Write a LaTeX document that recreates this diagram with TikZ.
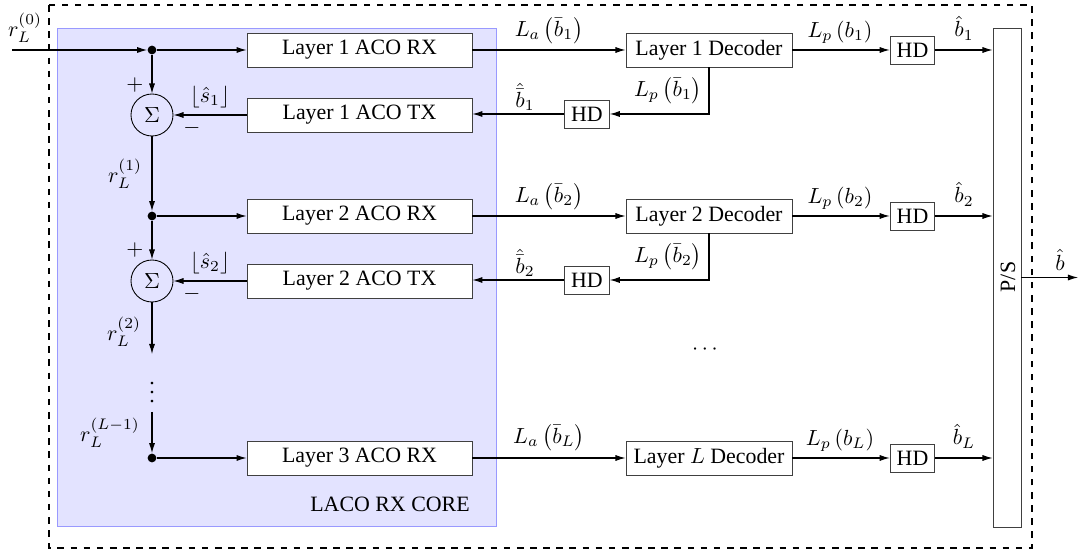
\documentclass[tikz,border=0pt]{standalone}
\usepackage{fontspec}
\setmainfont{Liberation Serif}
\usetikzlibrary{arrows.meta}
\begin{document}
\begin{tikzpicture}[x=0.457pt,y=-0.457pt,
  font=\fontsize{10}{12}\selectfont,
  >={Latex[length=4.6pt,width=2.8pt]},
  blk/.style={draw=black!75,fill=white,minimum width=102.8pt,minimum height=15.5pt,inner sep=0pt},
  dec/.style={draw=black!75,fill=white,minimum width=75.9pt,minimum height=15.5pt,inner sep=0pt},
  hd/.style={draw=black!75,fill=white,minimum width=20.4pt,minimum height=12.8pt,inner sep=0pt},
  sumc/.style={draw=black,circle,minimum size=19.2pt,inner sep=0pt},
  dotn/.style={circle,fill=black,minimum size=4pt,inner sep=0pt},
  lbl/.style={inner sep=0pt},
  conn/.style={->,line width=0.5pt}]
\useasboundingbox (0,0) rectangle (1078,552);
% frames
\draw[line width=1pt,dashed] (49,5) rectangle (1032,548);
\node[draw=blue!40,fill=blue!11,minimum width=200.6pt,minimum height=227.6pt,inner sep=0pt] (core) at (276.5,277) {};
\node[lbl] (corelbl) at (390,504) {LACO RX CORE};
% left column
\coordinate (in) at (12,50);
\node[dotn] (d1) at (152,50) {};
\node[sumc] (s1) at (152,115) {$\Sigma$};
\node[dotn] (d2) at (152,216) {};
\node[sumc] (s2) at (152,281) {$\Sigma$};
\coordinate (e2) at (152,354);
\node[lbl] (vd) at (152,386) {$\vdots$};
\coordinate (sL) at (152,412);
\node[dotn] (d3) at (152,458) {};
% ACO boxes
\node[blk] (rx1) at (359.5,50) {Layer 1 ACO RX};
\node[blk] (tx1) at (359.5,115) {Layer 1 ACO TX};
\node[blk] (rx2) at (359.5,216) {Layer 2 ACO RX};
\node[blk] (tx2) at (359.5,281) {Layer 2 ACO TX};
\node[blk] (rx3) at (359.5,458) {Layer 3 ACO RX};
% decoders
\node[dec] (dc1) at (709,50) {Layer 1 Decoder};
\node[dec] (dc2) at (709,216) {Layer 2 Decoder};
\node[dec] (dc3) at (709,458) {Layer $L$ Decoder};
\node[hd] (hl1) at (587,114) {HD};
\node[hd] (hl2) at (587,280) {HD};
\node[hd] (hr1) at (912.5,50) {HD};
\node[hd] (hr2) at (912.5,216) {HD};
\node[hd] (hr3) at (912.5,458) {HD};
\node[draw=black!75,fill=white,minimum width=12.8pt,minimum height=228pt,inner sep=0pt] (ps) at (1007,277.5) {};
\node[lbl,rotate=90] (pslbl) at (1008,277) {P/S};
\coordinate (out) at (1078,277.5);
\node[lbl] (dots) at (705,350) {$\cdots$};
% left connectors
\draw[conn] (in) -- (d1);
\draw[conn] (d1) -- (rx1);
\draw[conn] (d1) -- (s1);
\draw[conn] (tx1) -- (s1);
\draw[conn] (s1) -- (d2);
\draw[conn] (d2) -- (rx2);
\draw[conn] (d2) -- (s2);
\draw[conn] (tx2) -- (s2);
\draw[conn] (s2) -- (e2);
\draw[conn] (sL) -- (d3);
\draw[conn] (d3) -- (rx3);
% middle connectors
\draw[conn] (rx1) -- (dc1);
\draw[conn] (rx2) -- (dc2);
\draw[conn] (rx3) -- (dc3);
\draw[conn] (dc1.south) |- (hl1);
\draw[conn] (dc2.south) |- (hl2);
\draw[conn] (hl1) -- (tx1.east |- hl1);
\draw[conn] (hl2) -- (tx2.east |- hl2);
\draw[conn] (dc1) -- (hr1);
\draw[conn] (dc2) -- (hr2);
\draw[conn] (dc3) -- (hr3);
\draw[conn] (hr1) -- (ps.west |- hr1);
\draw[conn] (hr2) -- (ps.west |- hr2);
\draw[conn] (hr3) -- (ps.west |- hr3);
\draw[conn] (ps) -- (out);
% labels
\node[lbl] at (25,28) {$r_L^{(0)}$};
\node[lbl] at (135,85) {$+$};
\node[lbl] at (210,97) {$\left\lfloor \hat{s}_1\right\rfloor$};
\node[lbl] at (192,128) {$-$};
\node[lbl] at (125,174) {$r_L^{(1)}$};
\node[lbl] at (135,250) {$+$};
\node[lbl] at (210,263) {$\left\lfloor \hat{s}_2\right\rfloor$};
\node[lbl] at (192,294) {$-$};
\node[lbl] at (124,332) {$r_L^{(2)}$};
\node[lbl] at (110,433) {$r_L^{(L-1)}$};
\node[lbl] at (549,31) {$L_a\left(\bar{b}_1\right)$};
\node[lbl] at (549,197) {$L_a\left(\bar{b}_2\right)$};
\node[lbl] at (549,438) {$L_a\left(\bar{b}_L\right)$};
\node[lbl] at (525,97) {$\hat{\bar{b}}_1$};
\node[lbl] at (525,263) {$\hat{\bar{b}}_2$};
\node[lbl] at (668,91) {$L_p\left(\bar{b}_1\right)$};
\node[lbl] at (668,257) {$L_p\left(\bar{b}_2\right)$};
\node[lbl] at (840,32) {$L_p\left(b_1\right)$};
\node[lbl] at (840,198) {$L_p\left(b_2\right)$};
\node[lbl] at (840,440) {$L_p\left(b_L\right)$};
\node[lbl] at (964,28) {$\hat{b}_1$};
\node[lbl] at (964,194) {$\hat{b}_2$};
\node[lbl] at (964,436) {$\hat{b}_L$};
\node[lbl] at (1060,260) {$\hat{b}$};
\end{tikzpicture}
\end{document}
